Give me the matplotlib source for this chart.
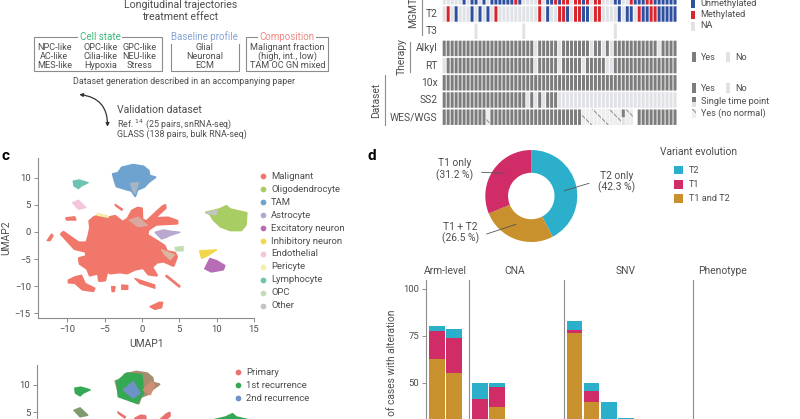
import matplotlib
matplotlib.use('Agg')
import matplotlib.pyplot as plt
from matplotlib.patches import Rectangle, FancyArrowPatch

plt.rcParams['font.family'] = ['Roboto', 'DejaVu Sans']
plt.rcParams['hatch.linewidth'] = 0.7

W, H = 800, 419
TXT = '#4d4d4d'
LINE = '#8c8c8c'
DARK = '#7d7d7d'
LIGHT = '#e0e2e6'
BLUE = '#2f4f9f'
RED = '#d8262e'
TEAL = '#2bafca'
CRIM = '#cf2c68'
GOLD = '#c8912e'

# --- panel b heat map (columns by index)
n_cols = 59
row_names = ['T1', 'T2', 'T3', 'Alkyl', 'RT', '10x', 'SS2', 'WES/WGS']
t1_unmeth = [5, 7, 8, 10, 12, 13, 14, 15, 16, 17, 19, 26, 27, 29, 35, 43, 44, 48, 49, 50, 53, 54, 55, 56, 57, 58]
t1_meth = [18, 24, 28, 30, 31, 33, 34, 36, 38, 39, 47, 51, 52]
t2_unmeth = [3, 7, 9, 11, 26, 31, 35, 36, 44, 46, 47, 50, 51, 54, 55, 56, 57, 58]
t2_meth = [1, 13, 24, 29, 30, 33, 34, 38, 39, 49, 52, 53]
t3_na = [8, 20, 43]
alkyl_no = [23, 29, 37, 40, 42, 54]
rt_no = [0, 23, 29, 35, 41, 42]
ss2_yes = list(range(21)) + [22, 24, 26, 27, 28]
wes_hatched = [11, 35, 36, 37, 38, 39, 40, 41, 42, 43, 44, 46, 47]
wes_single = [45]
wes_no = [48]

# --- panel c / e umap outlines (UMAP1, UMAP2)
malignant_main = [(-7.0, 2.0), (-6.4, 2.7), (-5.5, 3.1), (-4.6, 2.6), (-3.6, 2.9), (-2.6, 1.8), (-1.9, 2.4), (-1.3, 3.9),
                  (-0.6, 4.4), (-0.05, 4.3), (0.0, 2.3), (0.6, 1.9), (2.7, 4.6), (3.1, 4.9), (3.1, 4.4), (1.6, 2.5),
                  (3.5, 2.6), (4.7, 2.0), (4.7, 1.6), (1.9, 1.4), (0.8, 0.4), (0.7, -0.6), (1.9, -1.6), (3.0, -2.6),
                  (3.3, -3.6), (4.4, -3.9), (4.64, -4.6), (4.2, -6.2), (2.9, -5.4), (2.0, -5.6), (1.3, -6.5),
                  (1.96, -8), (0.9, -7.8), (0.18, -6.6), (-0.94, -6.9), (-2.0, -7.6), (-2.95, -7.4), (-4.2, -7.6),
                  (-4.7, -7.3), (-4.96, -8.9), (-5.7, -9.0), (-5.85, -7.6), (-6.96, -8), (-7.3, -6.8), (-8.3, -5.85),
                  (-8.4, -4.9), (-7.4, -4.5), (-7.5, -3.6), (-9, -3.1), (-10.8, -0.4), (-10.5, -0.06), (-8.5, -2.0),
                  (-7.4, -2.0), (-7.1, -0.6), (-6.9, 0.8)]
malignant_bits = [
    [(-9.87, -8.9), (-9, -8.3), (-8.1, -8), (-7.6, -9.5), (-6.3, -10.4), (-6.5, -11), (-8, -10.7), (-8.97, -9.5), (-9.87, -9.4)],
    [(-12.7, -1.6), (-12.1, -0.4), (-11.9, -0.7), (-12.3, -1.6)],
    [(-10.2, 2.6), (-9, 2.8), (-8.84, 2.2), (-10.1, 2.2)],
    [(-3.6, 5.1), (-2.6, 4.2), (-2.7, 4.0), (-3.5, 4.8)],
    [(3.3, -8), (5.1, -10), (5, -10.2), (3.2, -8.2)],
    [(-0.94, -8.6), (1.7, -9.8), (1.74, -10.4), (-0.27, -9.5)],
    [(-4.06, -10.1), (-3.6, -10.1), (-3.7, -11), (-4, -11)],
    [(-2.7, -9.8), (-1.9, -9.9), (-1.9, -10.6), (-2.7, -10.6)],
    [(1.07, -13.8), (2.3, -13), (2.77, -13), (2.63, -14), (1.74, -14.3)],
]
tam = [(-3.9, 10.7), (-3.2, 10.9), (-2.7, 11.9), (-1.2, 12.4), (0.2, 12.1), (0.9, 11.3), (1.0, 10.4), (1.8, 10.1),
       (0.9, 9.2), (0.3, 8.3), (-0.6, 7.8), (-0.9, 6.6), (-1.4, 7.6), (-2.2, 7.9), (-3.4, 8.4), (-3.65, 9.4)]
tam_grey = [(-1.6, 9), (-0.4, 9.2), (-0.9, 7.0), (-1.2, 7.4)]
lymph = [(-9.2, 9.4), (-8.4, 9.6), (-7.2, 9.1), (-8.1, 8.5), (-8.5, 8), (-9.1, 8.5)]
endo = [(-9.3, 5.4), (-8.5, 5.85), (-7.5, 4.5), (-8.5, 4.2)]
astro = [(1.74, -0.06), (2.86, 0.37), (4.0, 0.1), (5.1, -0.06), (3.7, -0.7), (3.3, -1.0), (2.6, -1.3)]
oligo = [(8.57, 3.6), (10.4, 4.2), (11.3, 4.8), (11.8, 4.2), (14, 3.5), (13.9, 1.3), (13.3, 0.3), (11.8, 0.3),
         (10.5, 1.0), (9.6, 2.2), (9.1, 3.3)]
oligo_grey = [(8.57, 3.6), (10.2, 4.1), (9.9, 3.1), (9.1, 3.3)]
excit = [(8.4, -6.8), (9.1, -4.9), (10, -5.3), (11.1, -6.2), (10.9, -7), (9.3, -7.4)]
inhib = [(7.7, -3.5), (10, -3.3), (8.9, -4.3), (8, -4.9)]
opc = [(4.4, -2.9), (5.5, -2.7), (5.5, -3.5), (4.6, -3.5)]
pericyte = [(-6, 3.4), (-4.6, 3.0), (-4.5, 2.7), (-6, 3.1)]
other = [(-1.8, 2.2), (-0.5, 2.8), (0.8, 1.2), (-0.5, 0.9)]
other2 = [(2.6, -3.2), (4.4, -4.2), (3.8, -5.2), (3.0, -4.2)]
tam_green_e = [(-3.7, 10.6), (-2.4, 12.1), (-0.5, 11.8), (-0.3, 8.5), (-1.1, 6.7), (-3.5, 7.9)]
tam_blue_e = [(-2.9, 9.1), (-1.6, 10.6), (-0.7, 8.5), (-1.6, 7.6)]
tam_salmon_e = [(-0.3, 9.1), (0.8, 10.6), (1.2, 10), (0.6, 8.2)]

cell_types = ['Malignant', 'Oligodendrocyte', 'TAM', 'Astrocyte', 'Excitatory neuron', 'Inhibitory neuron',
              'Endothelial', 'Pericyte', 'Lymphocyte', 'OPC', 'Other']
cell_colors = ['#f0776a', '#a8cd62', '#6ea3cf', '#b8a8d0', '#b66db5', '#f2d64b', '#f4c6dc', '#f3efa8', '#6fc3b1', '#c3dcb4', '#c4c4c4']
time_points = ['Primary', '1st recurrence', '2nd recurrence']
time_colors = ['#e8706e', '#35a853', '#6e92c8']

# --- panel d
donut_labels = ['T2 only', 'T1 + T2', 'T1 only']
donut_values = [42.3, 26.5, 31.2]
evolution = ['T2', 'T1', 'T1 and T2']
# stack tops per bar: gold, crimson, teal
bar_slots = [0, 1, 2.5, 3.5, 8, 9, 10, 11]
both_top = [62.5, 55, 25, 37.2, 76.2, 39.4, 0, 0]
t1_top = [77.6, 73.8, 41.5, 47.9, 78.3, 45.7, 0, 0]
t2_top = [80, 78.6, 50, 50, 82.8, 50, 39.4, 31]
facet_names = ['Arm-level', 'CNA', 'SNV', 'Phenotype']
facet_edges = [-0.17, 2.34, 7.83, 15.33]
facet_centers = [0.96, 4.94, 11.43, 17.06]


def px_axes(x0, y0, x1, y1):
    # y is measured from the top of the picture, like in the reference
    return fig.add_axes([x0 / W, 1 - y1 / H, (x1 - x0) / W, (y1 - y0) / H])


fig = plt.figure(figsize=(8, 4.19), dpi=100)

# overlay for the schematic and for the loose labels
ov = fig.add_axes([0, 0, 1, 1], zorder=5)
ov.set_xlim(0, W)
ov.set_ylim(H, 0)
ov.axis('off')
ov.patch.set_alpha(0)


def t(x, y, s, size=6.5, ha='center', va='center', color=TXT, **kw):
    return ov.text(x, y, s, fontsize=size, ha=ha, va=va, color=color, **kw)


# panel a/schematic
t(180.3, 5, 'Longitudinal trajectories', 7.6)
t(180.3, 16.7, 'treatment effect', 7.6)
boxes = [(34, 162.3, 'Cell state', '#3cb878', 100.3), (170.7, 238.7, 'Baseline profile', '#86a3d6', 204.7),
         (246, 328, 'Composition', '#ee8a86', 287.3)]
for x0, x1, name, col, cx in boxes:
    ov.add_patch(Rectangle((x0, 36.7), x1 - x0, 34.3, fc='none', ec=LINE, lw=0.8))
    t(cx, 36.7, name, 7, color=col, bbox=dict(fc='white', ec='none', pad=1.2))
for cx, col in [(54.3, ['NPC-like', 'AC-like', 'MES-like']), (100.7, ['OPC-like', 'Cilia-like', 'Hypoxia']),
                (139.3, ['GPC-like', 'NEU-like', 'Stress']), (204.7, ['Glial', 'Neuronal', 'ECM']),
                (287.3, ['Malignant fraction', '(high, int., low)', 'TAM OC GN mixed'])]:
    for y, s in zip([47.7, 56.7, 65.3], col):
        t(cx, y, s, 6.6)
t(184.3, 82, 'Dataset generation described in an accompanying paper', 6.4)
ov.add_patch(FancyArrowPatch((107.5, 126.7), (79.3, 94.5), connectionstyle='arc3,rad=0.45', arrowstyle='<|-|>',
                             mutation_scale=5, lw=0.9, color='#333333', shrinkA=0, shrinkB=0))
t(116.7, 109.7, 'Validation dataset', 7.6, ha='left')
t(116.7, 124, 'Ref. $^{14}$ (25 pairs, snRNA-seq)', 6.4, ha='left')
t(116.7, 134, 'GLASS (138 pairs, bulk RNA-seq)', 6.4, ha='left')

t(1, 156, 'c', 11, ha='left', color='black', fontweight='bold')
t(368, 156, 'd', 11, ha='left', color='black', fontweight='bold')

# panel b
hm = px_axes(442.2, -11.8, 677, 125.8)
hm.set_xlim(-0.5, 58.5)
hm.set_ylim(7.5, -0.5)
hm.axis('off')
cols = list(range(n_cols))
for r in range(8):
    if r == 0:
        c = [BLUE if i in t1_unmeth else RED if i in t1_meth else LIGHT for i in cols]
    elif r == 1:
        c = [BLUE if i in t2_unmeth else RED if i in t2_meth else LIGHT for i in cols]
    elif r == 2:
        c = [LIGHT if i in t3_na else 'none' for i in cols]
    elif r == 3:
        c = [LIGHT if i in alkyl_no else DARK for i in cols]
    elif r == 4:
        c = [LIGHT if i in rt_no else DARK for i in cols]
    elif r == 5:
        c = [DARK] * n_cols
    elif r == 6:
        c = [DARK if i in ss2_yes else LIGHT for i in cols]
    else:
        c = [LIGHT if i in wes_hatched + wes_single else 'white' if i in wes_no else DARK for i in cols]
    hm.bar(cols, 0.9, bottom=r - 0.45, width=0.76, color=c, linewidth=0)
hm.bar(wes_hatched, 0.9, bottom=6.55, width=0.76, color='#eeeeee', edgecolor='#8a8a8a', hatch='\\\\', linewidth=0)
hm.bar(wes_single, 0.45, bottom=6.55, width=0.76, color=DARK, linewidth=0)
# pixel snapping merges the thin columns otherwise
for p in hm.patches:
    p.set_snap(False)

row_y = [14 + 17.2 * (r - 1) for r in range(8)]
for s, y in zip(row_names, row_y):
    t(437.5, y, s, 7.4, ha='right')
t(413.5, 28.5, 'MGMT', 7.4, rotation=90, va='bottom')
t(401.7, 56.7, 'Therapy', 7.4, rotation=90)
t(376, 100, 'Dataset', 7.4, rotation=90)
for x, y0, y1 in [(422, 0, 35), (410, 41.7, 71.7), (384.7, 75, 125)]:
    ov.plot([x, x], [y0, y1], color=LINE, lw=0.8)


def sq(x0, y0, x1, y1, **kw):
    ov.add_patch(Rectangle((x0, y0), x1 - x0, y1 - y0, linewidth=0, **kw))


for y0, y1, col, s in [(-1, 8.3, BLUE, 'Unmethylated'), (10.7, 19.3, RED, 'Methylated'), (21.7, 30.7, LIGHT, 'NA')]:
    sq(691, y0, 695.3, y1, fc=col)
    t(700, (y0 + y1) / 2 - 0.3, s, 6.6, ha='left')
for y0, y1 in [(52.3, 62.3), (83.3, 93.3)]:
    sq(691.7, y0, 696, y1, fc=DARK)
    sq(725.7, y0, 730, y1, fc=LIGHT)
    t(701, (y0 + y1) / 2, 'Yes', 6.6, ha='left')
    t(735, (y0 + y1) / 2, 'No', 6.6, ha='left')
sq(691.7, 96.7, 696, 101.7, fc=DARK)
sq(691.7, 101.7, 696, 106.7, fc=LIGHT)
t(701, 101.5, 'Single time point', 6.6, ha='left')
sq(691.7, 109, 696, 117.7, fc='#eeeeee', ec='#8a8a8a', hatch='\\\\')
t(701, 113, 'Yes (no normal)', 6.6, ha='left')


# panel c and the one below it
def umap_fill(ax, pts, col, lw=1.0):
    ax.fill([p[0] for p in pts], [p[1] for p in pts], facecolor=col, edgecolor=col, linewidth=lw, joinstyle='round')


def umap_axes(x0, y0, x1, y1, xlim, ylim):
    ax = px_axes(x0, y0, x1, y1)
    ax.set_xlim(*xlim)
    ax.set_ylim(*ylim)
    ax.spines[['top', 'right']].set_visible(False)
    ax.spines[['left', 'bottom']].set_color(LINE)
    ax.spines[['left', 'bottom']].set_linewidth(0.8)
    ax.tick_params(labelsize=6.8, colors=TXT, length=3, width=0.7, color=LINE, pad=2)
    ax.set_xticks([-10, -5, 0, 5, 10, 15])
    ax.set_yticks([-15, -10, -5, 0, 5, 10])
    ax.xaxis.set_major_formatter(lambda v, p: f'{v:.0f}'.replace('-', '\u2212'))
    ax.yaxis.set_major_formatter(lambda v, p: f'{v:.0f}'.replace('-', '\u2212'))
    ax.patch.set_alpha(0)
    return ax


uc = umap_axes(37.7, 158.3, 254, 318.3, (-13.96, 15), (-15.95, 13.6))
col = dict(zip(cell_types, cell_colors))
umap_fill(uc, malignant_main, col['Malignant'], lw=2.0)
for piece in malignant_bits:
    umap_fill(uc, piece, col['Malignant'])
umap_fill(uc, tam, col['TAM'], lw=1.5)
umap_fill(uc, tam_grey, '#a9b4c4', lw=0.5)
umap_fill(uc, lymph, col['Lymphocyte'])
umap_fill(uc, endo, col['Endothelial'])
umap_fill(uc, astro, col['Astrocyte'])
umap_fill(uc, oligo, col['Oligodendrocyte'], lw=1.5)
umap_fill(uc, oligo_grey, col['Other'], lw=0.5)
umap_fill(uc, excit, col['Excitatory neuron'])
umap_fill(uc, inhib, col['Inhibitory neuron'])
umap_fill(uc, opc, col['OPC'])
umap_fill(uc, pericyte, col['Pericyte'])
umap_fill(uc, other, '#d9a9a0', lw=0.5)
umap_fill(uc, other2, '#dcb7a0', lw=0.5)
t(146.7, 344, 'UMAP1', 7.4)
t(6.5, 238, 'UMAP2', 7.4, rotation=90)

for i, (s, c_) in enumerate(zip(cell_types, cell_colors)):
    y = 176.3 + 12.94 * i
    ov.scatter([262.7], [y], s=17, color=c_, linewidth=0)
    t(271, y, s, 6.8, ha='left')

ue = umap_axes(37.3, 365, 261, 529, (-14.06, 15), (-16.1, 13.6))
umap_fill(ue, tam, '#a58d6e', lw=1.5)
umap_fill(ue, tam_green_e, time_colors[1], lw=1.5)
umap_fill(ue, tam_blue_e, time_colors[2])
umap_fill(ue, tam_salmon_e, '#cf8f74')
umap_fill(ue, lymph, time_colors[1])
umap_fill(ue, endo, '#7f9a6c')
umap_fill(ue, oligo, time_colors[1])
umap_fill(ue, malignant_main, time_colors[0], lw=2.0)
umap_fill(ue, malignant_bits[3], time_colors[0])
umap_fill(ue, pericyte, '#7f9a6c')
for i, (s, c_) in enumerate(zip(time_points, time_colors)):
    y = 372 + 13.2 * i
    ov.scatter([237.7], [y], s=17, color=c_, linewidth=0)
    t(246, y, s, 6.8, ha='left')

# panel d donut
dn = px_axes(531.3 - 46, 196 - 46, 531.3 + 46, 196 + 46)
dn.pie(donut_values, colors=[TEAL, GOLD, CRIM], startangle=90, counterclock=False, radius=1,
       wedgeprops=dict(width=0.495, linewidth=0))
dn.set_xlim(-1, 1)
dn.set_ylim(-1, 1)
for (x0, y0, x1, y1) in [(564.3, 190.7, 589, 183.3), (481.7, 172.3, 504, 173.3), (486.7, 234, 516, 224.3)]:
    ov.plot([x0, x1], [y0, y1], color='#555555', lw=0.6)
for cx, y, s, v in [(616.3, 176, donut_labels[0], donut_values[0]), (460.7, 226.7, donut_labels[1], donut_values[1]),
                    (455, 163.3, donut_labels[2], donut_values[2])]:
    t(cx, y, s, 7.4)
    t(cx, y + 11.5, f'({v} %)', 7.4)
t(660, 151.7, 'Variant evolution', 7.4, ha='left')
for y0, c_, s in zip([165.7, 180, 194.3], [TEAL, CRIM, GOLD], evolution):
    sq(674, y0, 683.3, y0 + 8.7, fc=c_)
    t(688.7, y0 + 4.4, s, 6.6, ha='left')

# panel d bars, the lower part lies outside the crop
bars = px_axes(426.3, 280, 800, 476.4)
bars.set_xlim(-0.17, 21.55)
bars.set_ylim(0, 104.7)
bars.bar(bar_slots, t2_top, width=0.895, align='edge', color=TEAL, linewidth=0)
bars.bar(bar_slots, t1_top, width=0.895, align='edge', color=CRIM, linewidth=0)
bars.bar(bar_slots, both_top, width=0.895, align='edge', color=GOLD, linewidth=0)
bars.spines[['top', 'right', 'bottom']].set_visible(False)
bars.spines['left'].set_color(LINE)
bars.spines['left'].set_linewidth(0.8)
bars.set_xticks([])
bars.set_yticks([25, 50, 75, 100])
bars.tick_params(labelsize=6.8, colors=TXT, length=3, width=0.7, color=LINE, pad=2)
bars.patch.set_alpha(0)
for e in facet_edges[1:]:
    bars.axvline(e, color=LINE, lw=0.8)
for c_, s in zip(facet_centers, facet_names):
    bars.text(c_, 109.7, s, fontsize=7.4, ha='center', va='center', color=TXT)
t(392, 309, '% of cases with alteration', 7.4, rotation=90, va='top')

fig.savefig('out.png', dpi=100)
